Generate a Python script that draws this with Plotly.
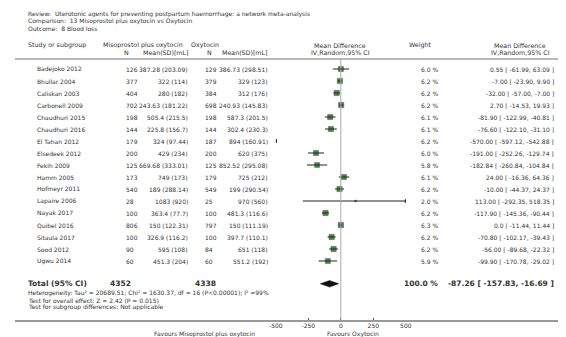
import plotly.graph_objects as go

# ---------------- data ----------------
studies = ["Badejoko 2012", "Bhullar 2004", "Caliskan 2003", "Carbonell 2009",
           "Chaudhuri 2015", "Chaudhuri 2016", "El Tahan 2012", "Elsedeek 2012",
           "Fekih 2009", "Hamm 2005", "Hofmeyr 2011", "Lapaire 2006", "Nayak 2017",
           "Quibel 2016", "Sitaula 2017", "Sood 2012", "Ugwu 2014"]
exp_n = [126, 377, 404, 702, 198, 144, 179, 200, 125, 173, 540, 28, 100, 806, 100, 90, 60]
exp_mean = [387.28, 322, 280, 243.63, 505.4, 225.8, 324, 429, 669.68, 749, 189, 1083,
            363.4, 150, 326.9, 595, 451.3]
exp_sd = [203.09, 114, 182, 181.22, 215.5, 156.7, 97.44, 234, 333.01, 173, 288.14, 920,
          77.7, 122.31, 116.2, 108, 204]
ctl_n = [129, 379, 384, 698, 198, 144, 187, 200, 125, 179, 549, 25, 100, 797, 100, 84, 60]
ctl_mean = [386.73, 329, 312, 240.93, 587.3, 302.4, 894, 620, 852.52, 725, 199, 970,
            481.3, 150, 397.7, 651, 551.2]
ctl_sd = [298.51, 123, 176, 145.83, 201.5, 230.3, 160.91, 375, 295.08, 212, 290.54, 560,
          116.6, 111.19, 110.1, 118, 192]
weights = [6.0, 6.2, 6.2, 6.2, 6.1, 6.1, 6.2, 6.0, 5.8, 6.1, 6.2, 2.0, 6.2, 6.3, 6.2, 6.2, 5.9]
md = [0.55, -7.00, -32.00, 2.70, -81.90, -76.60, -570.00, -191.00, -182.84, 24.00,
      -10.00, 113.00, -117.90, 0.0, -70.80, -56.00, -99.90]
ci_lo = [-61.99, -23.90, -57.00, -14.53, -122.99, -122.10, -597.12, -252.26, -260.84,
         -16.36, -44.37, -292.35, -145.36, -11.44, -102.17, -89.68, -170.78]
ci_hi = [63.09, 9.90, -7.00, 19.93, -40.81, -31.10, -542.88, -129.74, -104.84, 64.36,
         24.37, 518.35, -90.44, 11.44, -39.43, -22.32, -29.02]

total_exp_n = 4352
total_ctl_n = 4338
total_weight = 100.0
total_md = -87.26
total_lo = -157.83
total_hi = -16.69

x_ticks = [-500, -250, 0, 250, 500]
x_tick_labels = ["-500", "-250", "0", "250", "500"]

header_lines = ["Review:  Uterotonic agents for preventing postpartum haemorrhage: a network meta-analysis",
                "Comparison:  13 Misoprostol plus oxytocin vs Oxytocin",
                "Outcome:  8 Blood loss"]
footer_lines = ["Heterogeneity: Tau\u00b2 = 20689.51; Chi\u00b2 = 1630.37, df = 16 (P<0.00001); I\u00b2 =99%",
                "Test for overall effect: Z = 2.42 (P = 0.015)",
                "Test for subgroup differences: Not applicable"]

# ---------------- layout helpers ----------------
W, H = 566, 337
FONT = "DejaVu Sans"
TXT = "#333333"
FS = 6
FH = 6.3
XMIN, XMAX = -500, 500
ROW0_PX, ROW_STEP = 61, 12  # pixel of first row, pixel per row


def px(x):
    return x / W


def py(y):
    return 1 - y / H


def fmt(v):
    return f"{v:g}"


def fmt_md(v):
    return "0.0" if v == 0 else f"{v:.2f}"


rows = list(range(len(studies)))
total_row = len(studies) + 0.9

fig = go.Figure()

# CI lines (clipped to axis range) with arrows when truncated
for i in rows:
    lo_c = max(ci_lo[i], XMIN)
    hi_c = min(ci_hi[i], XMAX)
    if lo_c < hi_c:
        fig.add_trace(go.Scatter(x=[lo_c, hi_c], y=[i, i], mode="lines",
                                 line=dict(color="#222222", width=1),
                                 hoverinfo="skip", showlegend=False))
    if ci_hi[i] < XMIN:
        fig.add_trace(go.Scatter(x=[XMIN], y=[i], mode="markers",
                                 marker=dict(symbol="triangle-left", size=4, color="#111111"),
                                 hoverinfo="skip", showlegend=False))
    elif ci_hi[i] > XMAX:
        fig.add_trace(go.Scatter(x=[XMAX], y=[i], mode="markers",
                                 marker=dict(symbol="triangle-right", size=4, color="#111111"),
                                 hoverinfo="skip", showlegend=False))

# squares
in_x = [m for m in md if XMIN <= m <= XMAX]
in_y = [i for i, m in zip(rows, md) if XMIN <= m <= XMAX]
in_w = [w for w, m in zip(weights, md) if XMIN <= m <= XMAX]
fig.add_trace(go.Scatter(x=in_x, y=in_y, mode="markers",
                         marker=dict(symbol="square", size=[w * 0.85 for w in in_w],
                                     color="#0b440b", line=dict(color="#052b05", width=0.5)),
                         hoverinfo="skip", showlegend=False))

# diamond
dh = 0.27
fig.add_trace(go.Scatter(x=[total_lo, total_md, total_hi, total_md, total_lo],
                         y=[total_row, total_row - dh, total_row, total_row + dh, total_row],
                         mode="lines", fill="toself", fillcolor="#111111",
                         line=dict(color="#111111", width=0.5),
                         hoverinfo="skip", showlegend=False))

# y axis: row index -> pixel
y_top = (0 - ROW0_PX) / ROW_STEP
y_bot = (H - ROW0_PX) / ROW_STEP


def prow(p):
    return (p - ROW0_PX) / ROW_STEP


shapes = []
# zero line
shapes.append(dict(type="line", xref="x", yref="y", x0=0, x1=0, y0=prow(51), y1=prow(313),
                   line=dict(color="#aaaaaa", width=1)))
# header rule
shapes.append(dict(type="line", xref="paper", yref="paper", x0=0, x1=1, y0=py(51), y1=py(51),
                   line=dict(color="#a0a0a0", width=1.5)))
# axis rule
shapes.append(dict(type="line", xref="paper", yref="paper", x0=0, x1=1, y0=py(313), y1=py(313),
                   line=dict(color="#999999", width=2)))

ann = []


def t(x, y, s, anchor="left", size=FS, bold=False, yref="paper"):
    ann.append(dict(x=px(x), y=(py(y) if yref == "paper" else y), xref="paper", yref=yref,
                    text=(f"<b>{s}</b>" if bold else s), showarrow=False,
                    xanchor=anchor, yanchor="middle", borderpad=0, borderwidth=0,
                    font=dict(family=FONT, size=size, color=TXT)))


# header
for k, line in enumerate(header_lines):
    t(13, 6 + 7 * k, line)
t(13, 37, "Study or subgroup", size=FH)
t(90, 37, "Misoprostol plus oxytocin", size=FH)
t(112, 44, "N", size=FH)
t(177, 44, "Mean(SD)[mL]", anchor="right", size=FH)
t(180, 37, "Oxytocin", size=FH)
t(197, 44, "N", size=FH)
t(258, 44, "Mean(SD)[mL]", anchor="right", size=FH)
t(333, 37, "Mean Difference", anchor="center", size=FH)
t(333, 44, "IV,Random,95% CI", anchor="center", size=FH)
t(415, 37, "Weight", anchor="center", size=FH)
t(517, 37, "Mean Difference", anchor="center", size=FH)
t(517, 44, "IV,Random,95% CI", anchor="center", size=FH)

# study rows
for i in rows:
    t(23, i, studies[i], yref="y")
    t(114, i, str(exp_n[i]), yref="y")
    t(177, i, f"{fmt(exp_mean[i])} ({fmt(exp_sd[i])})", anchor="right", yref="y")
    t(194, i, str(ctl_n[i]), yref="y")
    t(259, i, f"{fmt(ctl_mean[i])} ({fmt(ctl_sd[i])})", anchor="right", yref="y")
    t(433, i, f"{weights[i]:.1f} %", anchor="right", yref="y")
    t(552, i, f"{fmt_md(md[i])} [ {fmt_md(ci_lo[i])}, {fmt_md(ci_hi[i])} ]", anchor="right", yref="y")

# total row
t(13, total_row, "Total (95% CI)", bold=True, size=7.5, yref="y")
t(97, total_row, str(total_exp_n), bold=True, size=7.5, yref="y")
t(184, total_row, str(total_ctl_n), bold=True, size=7.5, yref="y")
t(433, total_row, f"{total_weight:.1f} %", anchor="right", bold=True, size=7.5, yref="y")
t(552, total_row, f"{total_md:.2f} [ {total_lo:.2f}, {total_hi:.2f} ]", anchor="right",
  bold=True, size=7.5, yref="y")
for k, line in enumerate(footer_lines):
    t(13, 285 + 7 * k, line)

# favours labels
t(246, 326, "Favours Misoprostol plus oxytocin", anchor="right")
t(319, 326, "Favours Oxytocin")

fig.update_layout(
    width=W, height=H,
    margin=dict(l=0, r=0, t=0, b=0),
    paper_bgcolor="white", plot_bgcolor="rgba(0,0,0,0)",
    showlegend=False,
    xaxis=dict(domain=[px(267), px(400)], range=[XMIN, XMAX], anchor="free",
               position=py(313), tickvals=x_ticks, ticktext=x_tick_labels,
               ticks="inside", ticklen=3, tickcolor="#555555", showgrid=False,
               zeroline=False, showline=False,
               tickfont=dict(family=FONT, size=FS, color=TXT), fixedrange=True),
    yaxis=dict(domain=[0, 1], range=[y_bot, y_top], visible=False, showgrid=False,
               zeroline=False, fixedrange=True),
    shapes=shapes,
    annotations=ann,
)

fig.write_html("out.html")
